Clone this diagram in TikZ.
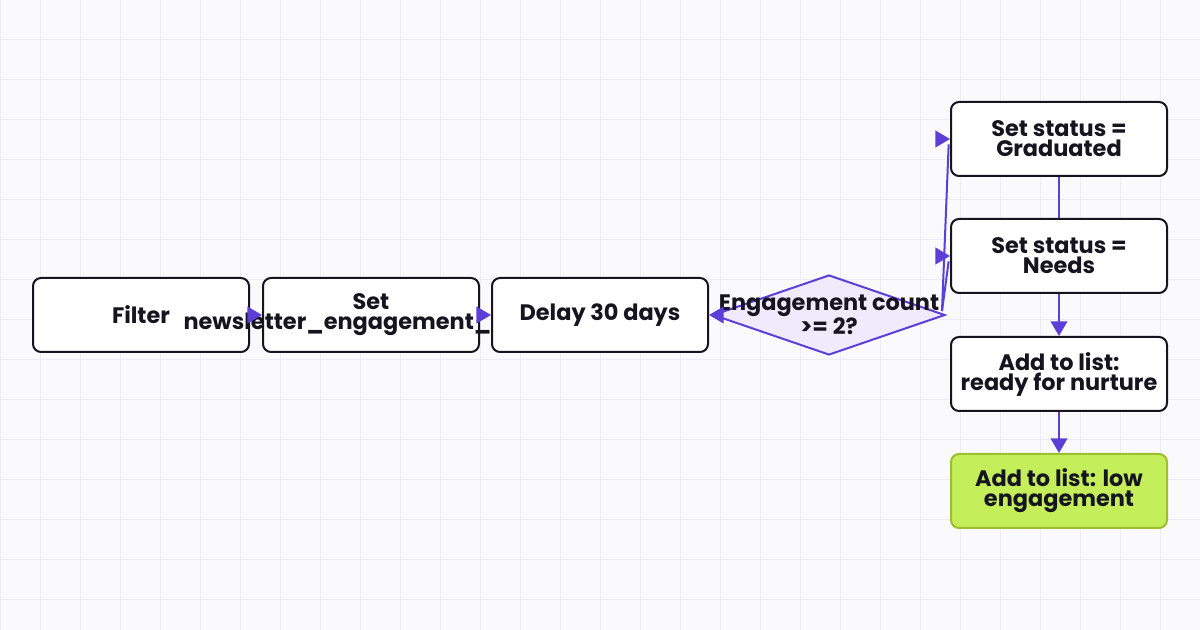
\documentclass[tikz,border=0pt]{standalone}
\usepackage{fontspec}
\setmainfont{Poppins}
\usetikzlibrary{shapes.geometric,arrows.meta}
\definecolor{mybgcolor}{HTML}{FAFAFD}
\definecolor{mygridcolor}{HTML}{EDEBF7}
\definecolor{myedgecolor}{HTML}{5B3FD6}
\definecolor{myinkcolor}{HTML}{16151F}
\definecolor{mydecisioncolor}{HTML}{EFEBFD}
\definecolor{mylimecolor}{HTML}{C5EF5A}
\definecolor{mylimeborder}{HTML}{9CBF2B}
\tikzset{
  boxtext/.style={align=center, text=myinkcolor, font=\fontsize{16.8pt}{15pt}\selectfont\bfseries},
  stepbox/.style={boxtext, draw=myinkcolor, fill=white, rectangle, rounded corners=6pt, line width=1.5pt, minimum width=162pt, minimum height=55.5pt},
  limebox/.style={stepbox, draw=mylimeborder, fill=mylimecolor},
  decisionbox/.style={draw=myedgecolor, fill=mydecisioncolor, diamond, line width=1.5pt, inner sep=0pt, minimum width=174pt, minimum height=60pt},
  flowline/.style={draw=myedgecolor, line width=1.5pt},
  flowarrow/.style={flowline, -{Triangle[length=11pt,width=12.5pt]}},
  gridline/.style={draw=mygridcolor, line width=0.75pt}
}

\begin{document}
\begin{tikzpicture}[x=0.75pt, y=0.75pt]%
\useasboundingbox[fill=mybgcolor] (0,0) rectangle (1200,-630);%
\foreach \gx in {0,40,...,1200} \draw[gridline] (\gx,0) -- (\gx,-630);%
\foreach \gy in {0,40,...,600} \draw[gridline] (0,-\gy) -- (1200,-\gy);%
% main row
\node[stepbox] (filter) at (141,-315) {Filter};%
\node[stepbox] (setcount) at (371,-315) {Set\\\makebox[0pt][c]{newsletter\_engagement\_count}};%
\node[stepbox] (delay) at (600,-315) {Delay 30 days};%
\node[decisionbox] (cond) at (829,-315) {};%
\node[boxtext] (condtext) at (cond) {Engagement count\\>= 2?};%
% right column
\node[stepbox] (graduated) at (1059,-139) {Set status =\\Graduated};%
\node[stepbox] (needs) at (1059,-256) {Set status =\\Needs};%
\node[stepbox] (nurture) at (1059,-374) {Add to list:\\ready for nurture};%
\node[limebox] (lowlist) at (1059,-491) {Add to list: low\\engagement};%
% connectors
\draw[flowarrow] (filter.east) -- (setcount.west);%
\draw[flowarrow] (setcount.east) -- (delay.west);%
\draw[flowarrow] (cond.west) -- (delay.east);%
\draw[flowline] ([xshift=-3pt,yshift=3pt]cond.east) -- ([xshift=-1pt,yshift=-4pt]graduated.west);%
\draw[flowarrow] ([xshift=-2pt]graduated.west) -- (graduated.west);%
\draw[flowline] ([xshift=-3pt,yshift=3pt]cond.east) -- ([xshift=-1pt,yshift=-4pt]needs.west);%
\draw[flowarrow] ([xshift=-2pt]needs.west) -- (needs.west);%
\draw[flowline] (graduated.south) -- (needs.north);%
\draw[flowarrow] (needs.south) -- (nurture.north);%
\draw[flowarrow] (nurture.south) -- (lowlist.north);%
\end{tikzpicture}
\end{document}
